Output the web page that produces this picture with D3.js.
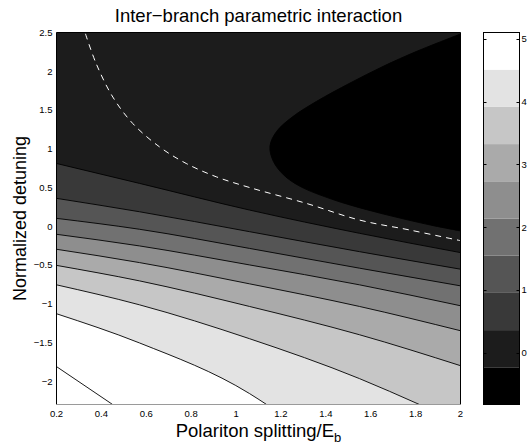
<!DOCTYPE html>
<html><head><meta charset="utf-8">
<script src="https://cdn.jsdelivr.net/npm/d3@7"></script>
<style>
body{margin:0;background:#fff}
svg{display:block}
text{font-family:"Liberation Sans",Arial,Helvetica,sans-serif;fill:#000}
</style>
</head><body>
<svg id="chart" width="528" height="445"></svg>
<script>
// ---------- data ----------
const titleText = "Inter\u2212branch parametric interaction";
const xLabelText = "Polariton splitting/E";
const xLabelSub = "b";
const yLabelText = "Normalized detuning";

const xDomain = [0.2, 2];
const yDomain = [-2.3, 2.5];
const xTicks = [0.2, 0.4, 0.6, 0.8, 1, 1.2, 1.4, 1.6, 1.8, 2];
const yTicks = [-2, -1.5, -1, -0.5, 0, 0.5, 1, 1.5, 2, 2.5];

const cbDomain = [-0.82, 5.1];
const cbTicks = [0, 1, 2, 3, 4, 5];
const nBands = 10;

// contour levels (boundary between bands), low -> high
const levelB  = -0.228;
const level1  = 0.364;
const level2  = 0.956;
const level3  = 1.548;
const level4  = 2.14;
const level5  = 2.732;
const level6  = 3.324;
const level7  = 3.916;
const level8  = 4.508;
const level9  = 5.1;

// contour lines [x, y]
const contourB = [[2.0,2.481],[1.805,2.257],[1.656,2.064],[1.508,1.848],[1.359,1.612],[1.255,1.419],[1.181,1.225],[1.151,1.032],[1.166,0.838],[1.211,0.665],[1.285,0.515],[1.433,0.343],[1.582,0.214],[1.730,0.106],[1.879,0.008],[2.0,-0.06]];
const contour1 = [[0.2,0.810],[0.57,0.553],[1.06,0.209],[1.55,-0.091],[2.0,-0.340]];
const contour2 = [[0.2,0.360],[0.57,0.187],[1.06,-0.070],[1.55,-0.328],[2.0,-0.554]];
const contour3 = [[0.2,0.102],[0.57,-0.039],[1.06,-0.286],[1.55,-0.541],[2.0,-0.769]];
const contour4 = [[0.2,-0.104],[0.57,-0.254],[1.06,-0.499],[1.55,-0.756],[2.0,-1.026]];
const contour5 = [[0.2,-0.297],[0.57,-0.469],[1.06,-0.743],[1.55,-1.035],[2.0,-1.348]];
const contour6 = [[0.2,-0.505],[0.57,-0.705],[1.06,-1.035],[1.55,-1.400],[2.0,-1.799]];
const contour7 = [[0.2,-0.756],[0.57,-1.014],[1.06,-1.451],[1.55,-1.966],[1.817,-2.3]];
const contour8 = [[0.2,-1.129],[0.57,-1.506],[1.06,-2.159],[1.136,-2.3]];
const contour9 = [[0.2,-1.811],[0.45,-2.3]];

// white dashed curve
const dashedCurve = [[0.329,2.483],[0.377,2.097],[0.451,1.667],[0.540,1.325],[0.659,1.024],[0.778,0.810],[0.912,0.638],[1.06,0.50],[1.313,0.295],[1.55,0.080],[1.773,-0.048],[2.0,-0.186]];

// ---------- layout ----------
const svg = d3.select("#chart");
const plot = {left:56.5, right:460.5, top:32.5, bottom:404.5};
const cb = {left:483.5, right:519.5, top:32.5, bottom:404.5};

const x = d3.scaleLinear().domain(xDomain).range([plot.left, plot.right]);
const y = d3.scaleLinear().domain(yDomain).range([plot.bottom, plot.top]);
const cy = d3.scaleLinear().domain(cbDomain).range([cb.bottom, cb.top]);

const grays = d3.range(nBands).map(i => { const v = Math.round(255 * i / (nBands - 1)); return d3.rgb(v, v, v).formatHex(); });
const color = d3.scaleQuantize().domain(cbDomain).range(grays);

// ---------- plot ----------
svg.append("defs").append("clipPath").attr("id","clip")
  .append("rect").attr("x", plot.left).attr("y", plot.top)
  .attr("width", plot.right - plot.left).attr("height", plot.bottom - plot.top);

const g = svg.append("g").attr("clip-path","url(#clip)");

const lineMono = d3.line().x(d => x(d[0])).y(d => y(d[1])).curve(d3.curveMonotoneX);
const lineCR = d3.line().x(d => x(d[0])).y(d => y(d[1])).curve(d3.curveCatmullRom.alpha(0.5));

function abovePath(pts) {
  let s = lineMono(pts);
  const last = pts[pts.length - 1];
  if (last[1] <= yDomain[0] + 1e-9) s += `L${x(xDomain[1])},${y(yDomain[0])}`;
  s += `L${x(xDomain[1])},${y(yDomain[1])}L${x(xDomain[0])},${y(yDomain[1])}Z`;
  return s;
}

g.append("rect").attr("x", plot.left).attr("y", plot.top)
  .attr("width", plot.right - plot.left).attr("height", plot.bottom - plot.top)
  .attr("fill", color(cbDomain[1]));

const bands = [
  {pts: contour9, level: level9},
  {pts: contour8, level: level8},
  {pts: contour7, level: level7},
  {pts: contour6, level: level6},
  {pts: contour5, level: level5},
  {pts: contour4, level: level4},
  {pts: contour3, level: level3},
  {pts: contour2, level: level2},
  {pts: contour1, level: level1}
];
bands.forEach(b => {
  g.append("path").attr("d", abovePath(b.pts)).attr("fill", color(Math.min(b.level, cbDomain[1]) - 0.01)).attr("stroke","none");
});
g.append("path").attr("d", lineCR(contourB) + "Z").attr("fill", color(levelB - 0.01)).attr("stroke","none");

bands.forEach(b => {
  g.append("path").attr("d", lineMono(b.pts)).attr("fill","none").attr("stroke","#000").attr("stroke-width",0.9);
});
g.append("path").attr("d", lineCR(contourB)).attr("fill","none").attr("stroke","#000").attr("stroke-width",0.9);

g.append("path").attr("d", lineCR(dashedCurve)).attr("fill","none")
  .attr("stroke","#fff").attr("stroke-width",1).attr("stroke-dasharray","6,5");

// border
svg.append("line").attr("x1",plot.left).attr("x2",plot.right).attr("y1",plot.top).attr("y2",plot.top).attr("stroke","#000");
svg.append("line").attr("x1",plot.left).attr("x2",plot.left).attr("y1",plot.top).attr("y2",plot.bottom).attr("stroke","#000");
svg.append("line").attr("x1",plot.right).attr("x2",plot.right).attr("y1",plot.top).attr("y2",plot.bottom).attr("stroke","#000");
svg.append("line").attr("x1",plot.left).attr("x2",plot.right).attr("y1",plot.bottom).attr("y2",plot.bottom).attr("stroke","#9a9a9a");

// tick labels
const fmt = v => (v < 0 ? "\u2212" : "") + d3.format("~g")(Math.abs(v));
svg.append("g").selectAll("text").data(xTicks).join("text")
  .attr("x", d => x(d)).attr("y", 417).attr("text-anchor","middle")
  .attr("font-size", 9.5).text(fmt);
svg.append("g").selectAll("text").data(yTicks).join("text")
  .attr("x", 52.5).attr("y", d => y(d)).attr("dy","0.35em").attr("text-anchor","end")
  .attr("font-size", 9.5).text(fmt);

// labels
svg.append("text").attr("x", (plot.left + plot.right) / 2).attr("y", 22)
  .attr("text-anchor","middle").attr("font-size", 18.5).text(titleText);

const xl = svg.append("text").attr("x", (plot.left + plot.right) / 2).attr("y", 436.5)
  .attr("text-anchor","middle").attr("font-size", 18.5);
xl.append("tspan").text(xLabelText);
xl.append("tspan").attr("font-size", 13).attr("dy", 5.5).text(xLabelSub);

svg.append("text").attr("transform", `translate(26,${(plot.top + plot.bottom) / 2}) rotate(-90)`)
  .attr("text-anchor","middle").attr("font-size", 18).text(yLabelText);

// ---------- colorbar ----------
const edges = d3.range(nBands + 1).map(i => cbDomain[0] + i * (cbDomain[1] - cbDomain[0]) / nBands);
svg.append("g").selectAll("rect").data(d3.range(nBands)).join("rect")
  .attr("x", cb.left).attr("width", cb.right - cb.left)
  .attr("y", i => cy(edges[i + 1])).attr("height", i => cy(edges[i]) - cy(edges[i + 1]))
  .attr("fill", i => color((edges[i] + edges[i + 1]) / 2));
svg.append("rect").attr("x", cb.left).attr("y", cb.top)
  .attr("width", cb.right - cb.left).attr("height", cb.bottom - cb.top)
  .attr("fill","none").attr("stroke","#000");
const cbt = svg.append("g");
cbTicks.forEach(t => {
  const yy = Math.round(cy(t)) + 0.5;
  cbt.append("line").attr("x1", cb.left).attr("x2", cb.left + 3).attr("y1", yy).attr("y2", yy).attr("stroke","#000");
  cbt.append("line").attr("x1", cb.right - 3).attr("x2", cb.right).attr("y1", yy).attr("y2", yy).attr("stroke","#000");
  cbt.append("text").attr("x", cb.right + 2).attr("y", cy(t)).attr("dy","0.35em")
    .attr("font-size", 9.5).text(t);
});
</script>
</body></html>
